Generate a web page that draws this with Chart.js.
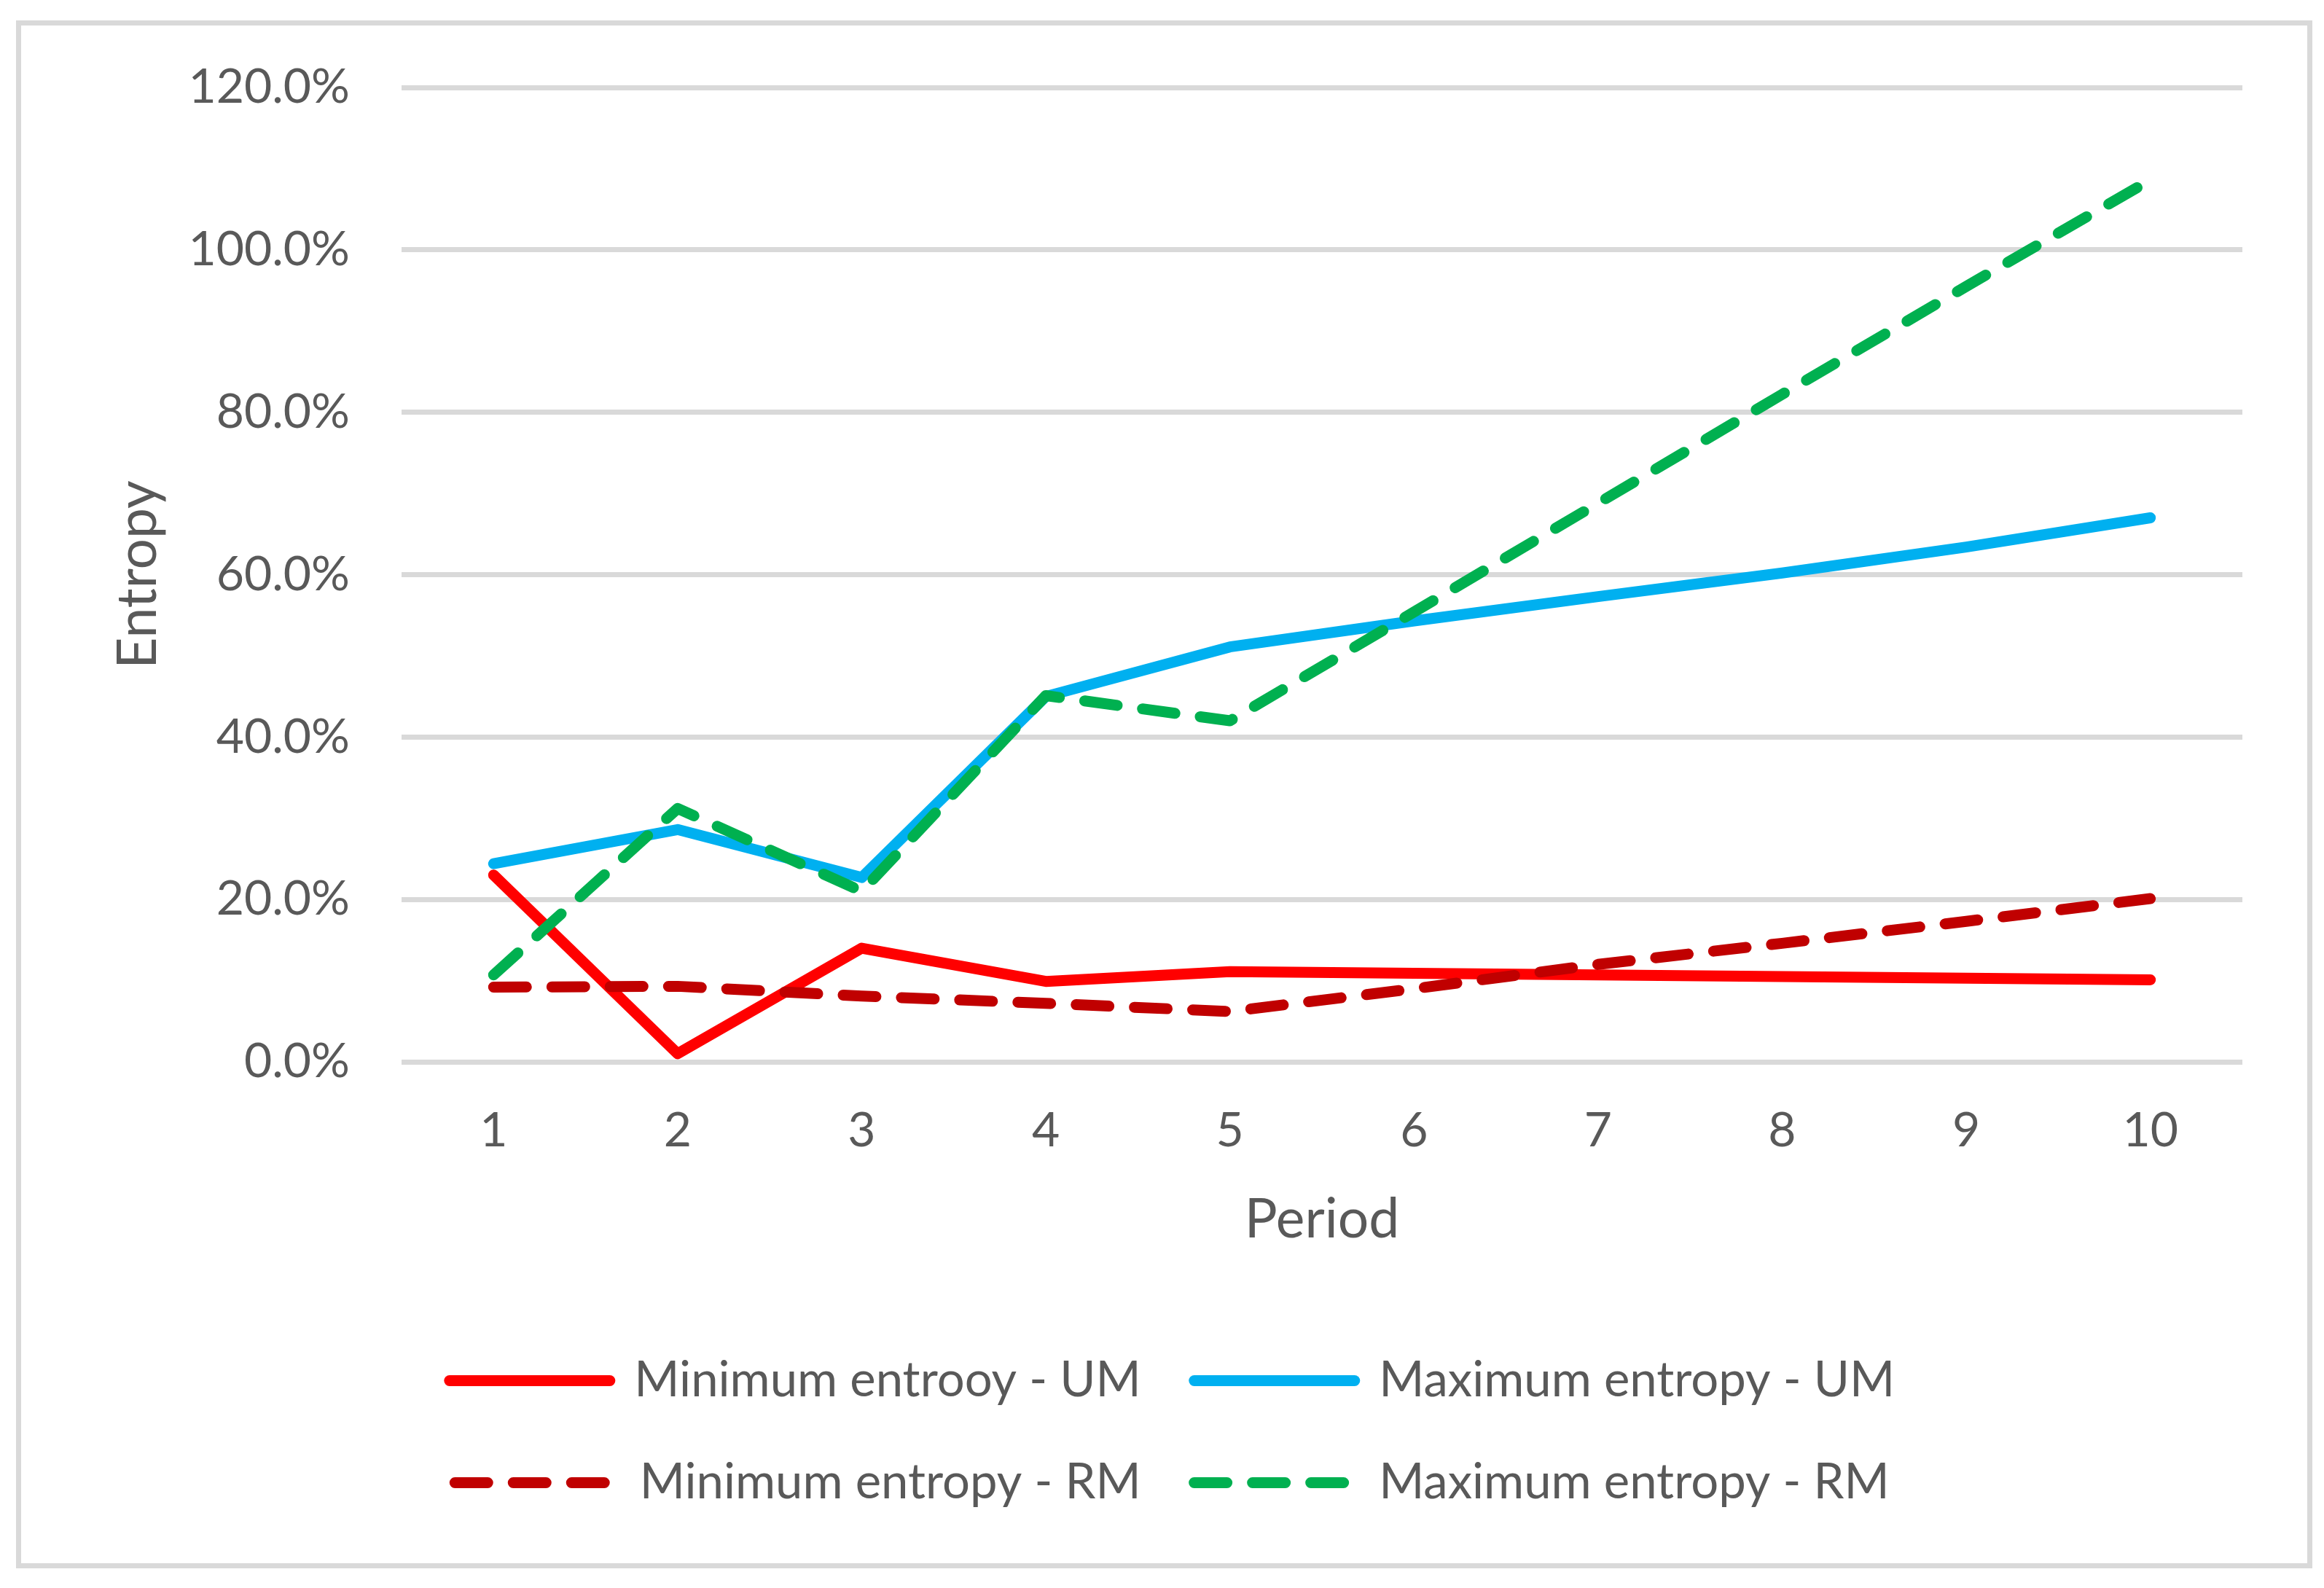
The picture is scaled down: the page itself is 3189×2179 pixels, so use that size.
<!DOCTYPE html>
<html>
<head>
<meta charset="utf-8">
<script src="https://cdn.jsdelivr.net/npm/chart.js@4.4.1/dist/chart.umd.min.js"></script>
<style>
  html, body { margin: 0; padding: 0; background: #ffffff; }
  canvas { display: block; }
</style>
</head>
<body>
<canvas id="c" width="3189" height="2179"></canvas>
<script>
// ---- Data (values in percent) ----
const periods = ['1', '2', '3', '4', '5', '6', '7', '8', '9', '10'];
const minEntropyUM = [23.0, 1.0, 14.0, 9.9, 11.1, 10.9, 10.7, 10.5, 10.3, 10.1];
const maxEntropyUM = [24.4, 28.6, 22.7, 45.0, 51.1, 54.3, 57.3, 60.2, 63.4, 67.0];
const minEntropyRM = [9.2, 9.3, 8.1, 7.2, 6.2, 9.0, 12.0, 14.6, 17.3, 20.1];
const maxEntropyRM = [10.7, 31.2, 21.0, 45.1, 42.0, 55.4, 68.8, 82.2, 95.5, 108.6];
const seriesNames = ['Minimum entrooy - UM', 'Maximum entropy - UM', 'Minimum entropy - RM', 'Maximum entropy - RM'];
const yTickValues = [0, 20, 40, 60, 80, 100, 120];
const xTitle = 'Period';
const yTitle = 'Entropy';

const FONT = 'Lato';
const TEXT = '#595959';
const GRID = '#d9d9d9';
const LW = 15;
const DASH = [45, 35];

const borderPlugin = {
  id: 'outerBorder',
  beforeDraw(chart) {
    const ctx = chart.ctx;
    ctx.save();
    ctx.fillStyle = '#ffffff';
    ctx.fillRect(0, 0, chart.width, chart.height);
    ctx.strokeStyle = GRID;
    ctx.lineWidth = 7;
    ctx.strokeRect(25.5, 31.5, 3144, 2117);
    ctx.restore();
  }
};

new Chart(document.getElementById('c'), {
  type: 'line',
  data: {
    labels: periods,
    datasets: [
      { label: seriesNames[0], data: minEntropyUM, borderColor: '#FF0000', backgroundColor: '#FF0000', borderWidth: LW, borderCapStyle: 'round', borderJoinStyle: 'round', order: 4 },
      { label: seriesNames[1], data: maxEntropyUM, borderColor: '#00B0F0', backgroundColor: '#00B0F0', borderWidth: LW, borderCapStyle: 'round', borderJoinStyle: 'round', order: 3 },
      { label: seriesNames[2], data: minEntropyRM, borderColor: '#C00000', backgroundColor: '#C00000', borderWidth: LW, borderDash: DASH, borderCapStyle: 'round', borderJoinStyle: 'round', order: 2 },
      { label: seriesNames[3], data: maxEntropyRM, borderColor: '#00B050', backgroundColor: '#00B050', borderWidth: LW, borderDash: DASH, borderCapStyle: 'round', borderJoinStyle: 'round', order: 1 }
    ]
  },
  options: {
    responsive: false,
    animation: false,
    devicePixelRatio: 1,
    elements: { point: { radius: 0, hoverRadius: 0 }, line: { tension: 0, fill: false } },
    layout: { padding: { left: 140, right: 112, top: 120, bottom: 101 } },
    scales: {
      x: {
        type: 'category',
        offset: true,
        grid: { display: false, drawTicks: false },
        border: { display: false },
        ticks: { color: TEXT, font: { family: FONT, size: 66 }, padding: 55, maxRotation: 0, autoSkip: false },
        title: { display: true, text: xTitle, color: TEXT, font: { family: FONT, size: 75 }, padding: { top: 0, bottom: 69 } },
        afterFit(scale) { scale.height = 331; }
      },
      y: {
        min: 0,
        max: 120,
        afterBuildTicks(scale) { scale.ticks = yTickValues.map(v => ({ value: v })); },
        grid: { color: GRID, lineWidth: 7, drawTicks: false },
        border: { display: false },
        ticks: { color: TEXT, font: { family: FONT, size: 66 }, padding: 71, callback: (v) => Number(v).toFixed(1) + '%' },
        title: { display: true, text: yTitle, color: TEXT, font: { family: FONT, size: 75 }, padding: { top: 5, bottom: 0 } },
        afterFit(scale) { scale.width = 411; }
      }
    },
    plugins: {
      legend: {
        display: true,
        position: 'bottom',
        labels: {
          usePointStyle: true,
          pointStyle: 'line',
          pointStyleWidth: 220,
          color: TEXT,
          font: { family: FONT, size: 67 },
          padding: 73,
          sort: (a, b) => a.datasetIndex - b.datasetIndex,
          generateLabels(chart) {
            const items = Chart.defaults.plugins.legend.labels.generateLabels(chart);
            return items.map(item => {
              const ds = chart.data.datasets[item.datasetIndex];
              item.lineDash = ds.borderDash || [];
              item.lineCap = ds.borderCapStyle || 'round';
              item.lineWidth = ds.borderWidth;
              item.strokeStyle = ds.borderColor;
              item.pointStyle = 'line';
              return item;
            });
          }
        }
      },
      tooltip: { enabled: false },
      title: { display: false }
    }
  },
  plugins: [borderPlugin]
});
</script>
</body>
</html>
